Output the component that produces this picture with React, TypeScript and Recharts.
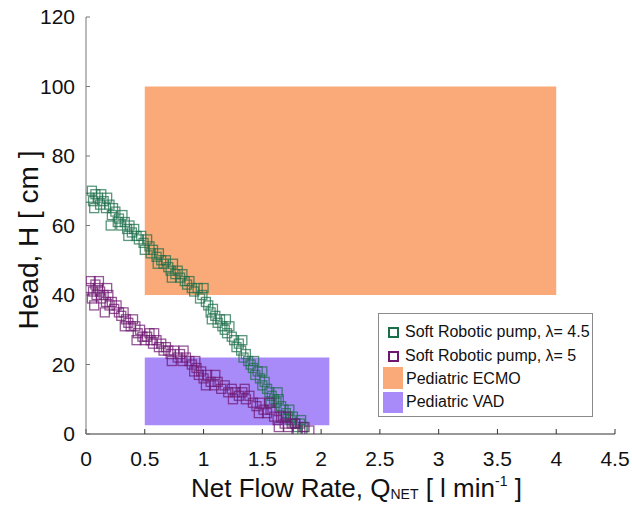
import * as React from "react";
import {
  ScatterChart,
  Scatter,
  XAxis,
  YAxis,
  ReferenceArea,
  Label,
} from "recharts";

// pump curves: [flow l/min, head cm]
const pumpLambda45: [number, number][] = [
  [0.03, 68], [0.05, 70], [0.06, 67], [0.08, 69], [0.1, 68], [0.12, 66], [0.13, 69],
  [0.15, 67], [0.17, 65], [0.18, 68], [0.2, 66], [0.22, 63], [0.23, 65], [0.25, 64],
  [0.27, 61], [0.28, 62], [0.3, 60], [0.31, 63], [0.33, 61], [0.35, 59], [0.37, 60],
  [0.39, 58], [0.41, 59], [0.43, 57], [0.45, 56], [0.47, 57], [0.49, 55], [0.5, 53],
  [0.52, 56], [0.54, 54], [0.55, 52], [0.57, 53], [0.6, 51], [0.62, 52], [0.64, 50],
  [0.66, 49], [0.68, 50], [0.7, 48], [0.72, 47], [0.74, 49], [0.76, 46], [0.78, 47],
  [0.8, 45], [0.82, 46], [0.84, 44], [0.86, 43], [0.88, 44], [0.9, 42], [0.92, 41],
  [0.95, 42], [0.97, 39], [0.99, 40], [1.02, 38], [1.04, 37], [1.06, 35], [1.08, 36],
  [1.1, 34], [1.12, 32], [1.14, 33], [1.16, 31], [1.18, 30], [1.2, 29], [1.22, 31],
  [1.24, 28], [1.26, 27], [1.28, 25], [1.3, 26], [1.32, 24], [1.34, 22], [1.36, 23],
  [1.38, 21], [1.4, 20], [1.42, 19], [1.44, 17], [1.46, 18], [1.48, 16], [1.5, 14],
  [1.52, 15], [1.54, 13], [1.56, 12], [1.58, 11], [1.6, 10], [1.62, 9], [1.64, 10],
  [1.66, 8], [1.68, 7], [1.7, 6], [1.72, 5], [1.74, 4], [1.76, 5], [1.78, 3], [1.8, 2],
  [1.82, 3], [1.84, 1], [1.86, 2],
  [0.07, 65], [0.21, 60], [0.36, 57], [0.61, 49], [0.73, 45], [1.0, 42], [1.07, 33],
  [1.19, 33], [1.33, 27], [1.43, 21], [1.5, 18], [1.57, 9], [1.63, 12], [1.73, 7],
  [1.79, 0.5], [1.83, 4],
];

const pumpLambda5: [number, number][] = [
  [0.03, 42], [0.04, 44], [0.05, 39], [0.06, 41], [0.08, 43], [0.09, 40], [0.1, 42],
  [0.12, 41], [0.13, 39], [0.15, 40], [0.16, 35], [0.17, 38], [0.19, 40], [0.2, 37],
  [0.22, 38], [0.24, 36], [0.26, 37], [0.28, 35], [0.3, 34], [0.32, 35], [0.34, 33],
  [0.36, 32], [0.38, 31], [0.4, 33], [0.42, 31], [0.44, 29], [0.46, 30], [0.48, 28],
  [0.5, 27], [0.52, 28], [0.54, 29], [0.55, 27], [0.57, 26], [0.6, 27], [0.62, 25],
  [0.64, 26], [0.66, 24], [0.68, 25], [0.7, 24], [0.72, 23], [0.75, 24], [0.78, 22],
  [0.8, 23], [0.82, 21], [0.85, 22], [0.88, 21], [0.9, 20], [0.92, 18], [0.94, 19],
  [0.96, 17], [0.98, 18], [1.0, 16], [1.03, 17], [1.06, 15], [1.09, 14], [1.12, 15],
  [1.15, 13], [1.18, 14], [1.21, 12], [1.24, 13], [1.27, 12], [1.3, 11], [1.33, 12],
  [1.36, 10], [1.39, 11], [1.42, 9], [1.45, 8], [1.48, 9], [1.51, 7], [1.54, 6],
  [1.57, 7], [1.6, 5], [1.63, 4], [1.66, 5], [1.69, 3], [1.72, 2], [1.75, 3], [1.8, 1],
  [1.85, 2], [1.9, 1],
  [0.07, 37], [0.11, 44], [0.18, 42], [0.33, 31], [0.43, 27], [0.58, 29], [0.73, 21],
  [0.83, 24], [0.93, 21], [1.02, 14], [1.1, 17], [1.25, 10], [1.35, 13], [1.47, 6],
  [1.56, 9], [1.64, 2], [1.7, 5], [1.78, 3],
];

// operating ranges: [xMin, xMax, yMin, yMax]
const ecmoRange = [0.5, 4, 40, 100];
const vadRange = [0.5, 2.07, 2.5, 22];

const xTicks = [0, 0.5, 1, 1.5, 2, 2.5, 3, 3.5, 4, 4.5];
const yTicks = [0, 20, 40, 60, 80, 100, 120];

const GREEN = "#1b6e48";
const PURPLE = "#6e1670";
const ECMO = "#f9aa78";
const VAD = "#a88bf8";
const FONT = "'Liberation Sans', Arial, sans-serif";

const toPoints = (arr: [number, number][]) => arr.map(([q, h]) => ({ q, h }));

const makeSquare = (color: string) => (props: any) => {
  const { cx, cy } = props;
  if (cx == null || cy == null) return <g />;
  return (
    <rect
      x={cx - 4.5}
      y={cy - 4.5}
      width={9}
      height={9}
      fill="none"
      stroke={color}
      strokeOpacity={0.72}
      strokeWidth={1.3}
    />
  );
};

const XTitle = (props: any) => {
  const vb = props.viewBox;
  const cx = vb.x + vb.width / 2 + 6;
  return (
    <text x={cx} y={497} textAnchor="middle" fontFamily={FONT} fontSize={26} fill="#111">
      <tspan>Net Flow Rate, Q</tspan>
      <tspan fontSize={14} dy={2}>NET</tspan>
      <tspan dy={-2}> [ l min</tspan>
      <tspan fontSize={14} dy={-11}>-1</tspan>
      <tspan dy={11}> ]</tspan>
    </text>
  );
};

const YTitle = () => (
  <text
    x={0}
    y={0}
    transform="translate(38, 240) rotate(-90)"
    textAnchor="middle"
    fontFamily={FONT}
    fontSize={28}
    fill="#111"
  >
    Head, H [ cm ]
  </text>
);

const LegendBox = () => (
  <div
    style={{
      position: "absolute",
      left: 378,
      top: 313,
      width: 215,
      height: 104,
      border: "1px solid #8a8a8a",
      background: "#fff",
      fontFamily: FONT,
      fontSize: 16,
      color: "#111",
      boxSizing: "border-box",
    }}
  >
    {[
      { label: "Soft Robotic pump, \u03bb= 4.5", color: GREEN, cy: 18 },
      { label: "Soft Robotic pump, \u03bb= 5", color: PURPLE, cy: 42 },
    ].map((it) => (
      <React.Fragment key={it.label}>
        <div
          style={{
            position: "absolute",
            left: 9,
            top: it.cy - 5,
            width: 7,
            height: 7,
            border: `2px solid ${it.color}`,
          }}
        />
        <div style={{ position: "absolute", left: 26, top: it.cy - 10, lineHeight: "20px", whiteSpace: "nowrap" }}>
          {it.label}
        </div>
      </React.Fragment>
    ))}
    {[
      { label: "Pediatric ECMO", color: ECMO, top: 53, h: 22, cy: 65 },
      { label: "Pediatric VAD", color: VAD, top: 78, h: 21, cy: 88 },
    ].map((it) => (
      <React.Fragment key={it.label}>
        <div
          style={{
            position: "absolute",
            left: 4,
            top: it.top,
            width: 20,
            height: it.h,
            background: it.color,
          }}
        />
        <div style={{ position: "absolute", left: 27, top: it.cy - 10, lineHeight: "20px", whiteSpace: "nowrap" }}>
          {it.label}
        </div>
      </React.Fragment>
    ))}
  </div>
);

const tickStyle = { fontFamily: FONT, fontSize: 21, fill: "#111" };

export default function App() {
  return (
    <div style={{ position: "absolute", left: 0, top: 0, width: 632, height: 511, background: "#fff" }}>
      <ScatterChart width={632} height={511} margin={{ top: 17, right: 17, bottom: 0, left: 0 }}>
        <XAxis
          xAxisId="bottom"
          type="number"
          dataKey="q"
          domain={[0, 4.5]}
          ticks={xTicks}
          allowDataOverflow
          height={77}
          tickSize={-5}
          tickMargin={22}
          stroke="#333"
          tick={tickStyle}
          tickFormatter={(v: number) => String(v)}
        >
          <Label content={XTitle} />
        </XAxis>
        <XAxis
          xAxisId="top"
          orientation="top"
          type="number"
          domain={[0, 4.5]}
          height={0}
          tick={false}
          tickLine={false}
          stroke="#555"
        />
        <YAxis
          yAxisId="left"
          type="number"
          dataKey="h"
          domain={[0, 120]}
          ticks={yTicks}
          allowDataOverflow
          width={86}
          tickSize={-4}
          tickMargin={15}
          stroke="#777"
          tick={tickStyle}
        >
          <Label content={YTitle} />
        </YAxis>
        <YAxis
          yAxisId="right"
          orientation="right"
          type="number"
          domain={[0, 120]}
          width={0}
          tick={false}
          tickLine={false}
          stroke="#aaa"
        />
        <ReferenceArea
          xAxisId="bottom"
          yAxisId="left"
          x1={ecmoRange[0]}
          x2={ecmoRange[1]}
          y1={ecmoRange[2]}
          y2={ecmoRange[3]}
          fill={ECMO}
          fillOpacity={1}
          stroke="none"
          ifOverflow="visible"
        />
        <ReferenceArea
          xAxisId="bottom"
          yAxisId="left"
          x1={vadRange[0]}
          x2={vadRange[1]}
          y1={vadRange[2]}
          y2={vadRange[3]}
          fill={VAD}
          fillOpacity={1}
          stroke="none"
          ifOverflow="visible"
        />
        <Scatter
          xAxisId="bottom"
          yAxisId="left"
          name="Soft Robotic pump, λ= 4.5"
          data={toPoints(pumpLambda45)}
          shape={makeSquare(GREEN)}
          isAnimationActive={false}
        />
        <Scatter
          xAxisId="bottom"
          yAxisId="left"
          name="Soft Robotic pump, λ= 5"
          data={toPoints(pumpLambda5)}
          shape={makeSquare(PURPLE)}
          isAnimationActive={false}
        />
      </ScatterChart>
      <LegendBox />
    </div>
  );
}
